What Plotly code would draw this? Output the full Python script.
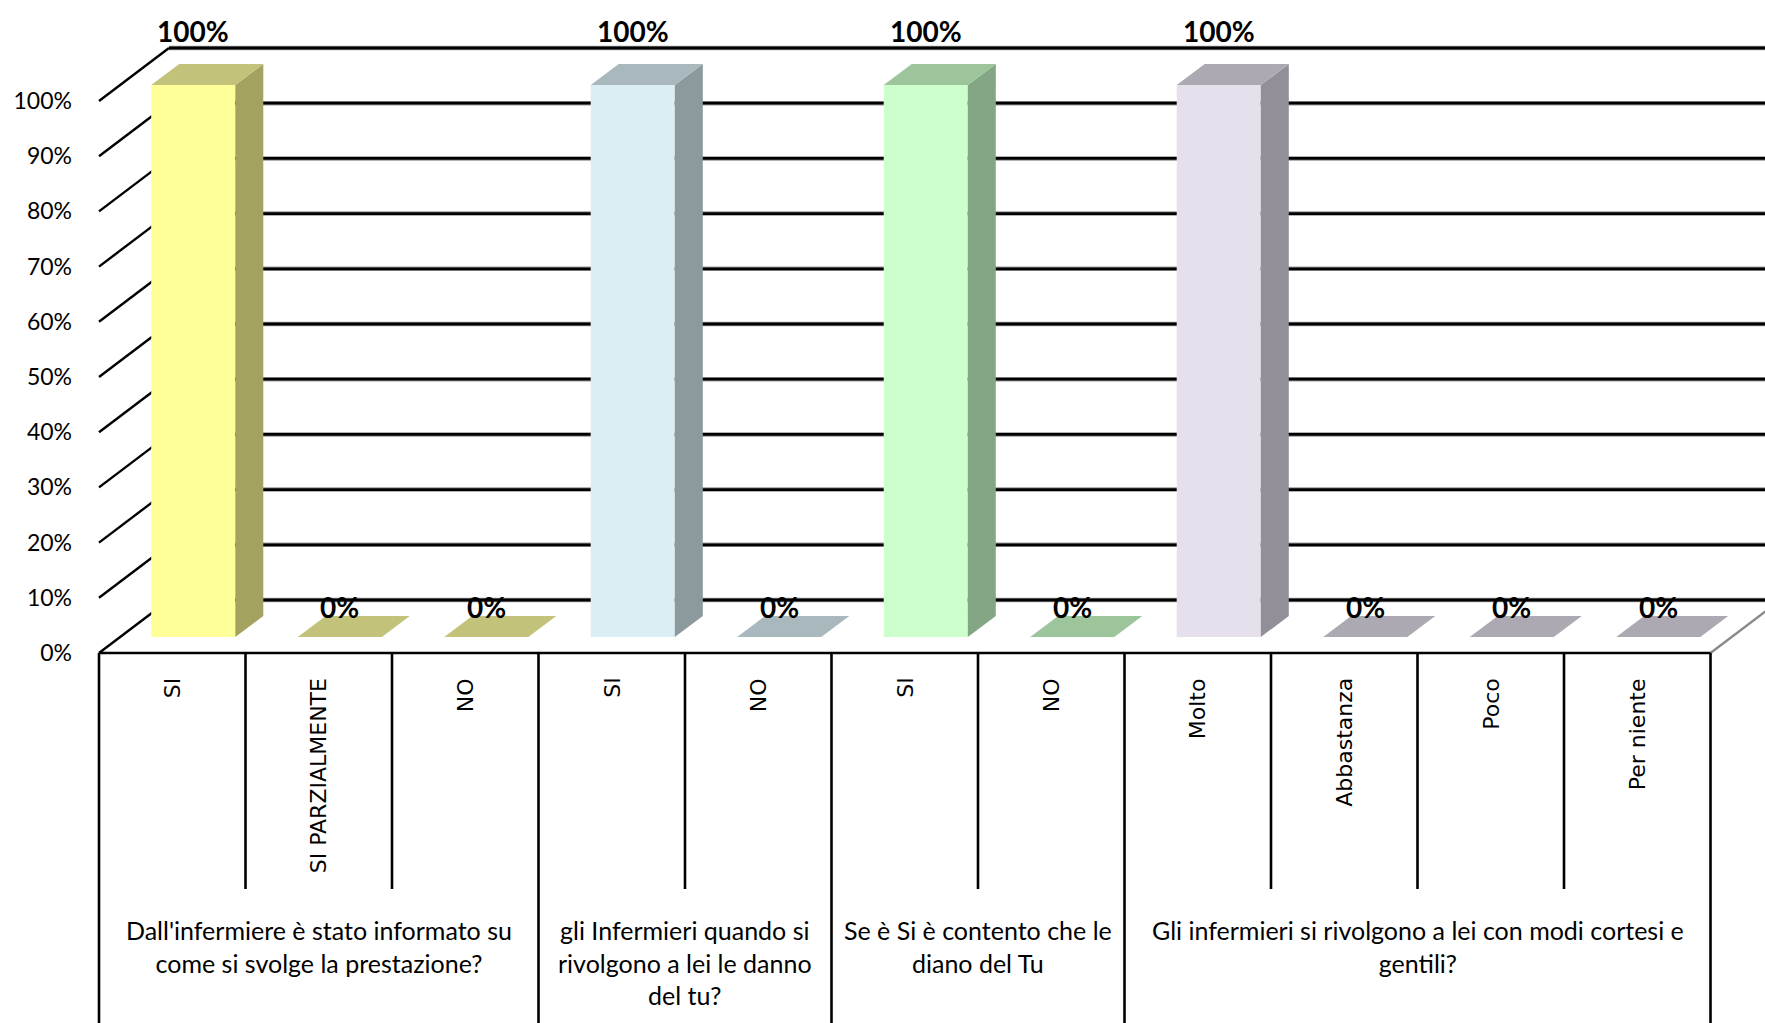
import plotly.graph_objects as go

# ---------------- data ----------------
categories = ["SI", "SI PARZIALMENTE", "NO", "SI", "NO", "SI", "NO",
              "Molto", "Abbastanza", "Poco", "Per niente"]
values = [1.0, 0.0, 0.0, 1.0, 0.0, 1.0, 0.0, 1.0, 0.0, 0.0, 0.0]
question_labels = [
    "Dall'infermiere è stato informato su<br>come si svolge la prestazione?",
    "gli Infermieri quando si<br>rivolgono a lei le danno<br>del tu?",
    "Se è Si è contento che le<br>diano del Tu",
    "Gli infermieri si rivolgono a lei con modi cortesi e<br>gentili?",
]
question_sizes = [3, 2, 2, 4]
y_ticks = [0.0, 0.1, 0.2, 0.3, 0.4, 0.5, 0.6, 0.7, 0.8, 0.9, 1.0]
y_tick_labels = ["0%", "10%", "20%", "30%", "40%", "50%", "60%", "70%", "80%", "90%", "100%"]

# ---------------- style ----------------
front_colors = ["#FFFF99", "#DAEEF3", "#CCFFCC", "#E5E0EC"]
side_colors = ["#A3A35F", "#8C9A9E", "#84A684", "#938F98"]
top_colors = ["#C2C27A", "#A9B8BC", "#9CC59C", "#ADA9B2"]

W, H = 1765, 1023
X0_PX, CAT_PX = 99.0, 146.5      # front plane: category 0 left edge, width of a category
Y0_PX, V_PX = 653.0, 552.0       # front plane: 0% level, pixels for 100%
DEPTH_X = 70.0 / CAT_PX          # full depth offset in data units
DEPTH_Y = 53.0 / V_PX
BAR_HALF = 0.287
BAR_D0, BAR_D1 = 0.3, 0.7

x_range = [-X0_PX / CAT_PX, (W - X0_PX) / CAT_PX]
y_range = [(Y0_PX - H) / V_PX, Y0_PX / V_PX]


def proj(x, v, d):
    return x + d * DEPTH_X, v + d * DEPTH_Y


def px_to_v(py):
    return (Y0_PX - py) / V_PX


n = len(categories)
group_of = []
for g, s in enumerate(question_sizes):
    group_of += [g] * s

fig = go.Figure()


def poly(xs, ys, color):
    fig.add_trace(go.Scatter(x=xs + [xs[0]], y=ys + [ys[0]], mode="lines", fill="toself",
                             fillcolor=color, line=dict(width=0, color=color),
                             hoverinfo="skip", showlegend=False))


def lines(segs, color, width):
    xs, ys = [], []
    for (a, b) in segs:
        xs += [a[0], b[0], None]
        ys += [a[1], b[1], None]
    fig.add_trace(go.Scatter(x=xs, y=ys, mode="lines", line=dict(color=color, width=width),
                             hoverinfo="skip", showlegend=False))


# back-wall gridlines
grid = []
for t in y_ticks:
    grid.append((proj(0, t, 1), proj(n + 1, t, 1)))
lines(grid, "#9a9a9a", 4.5)
lines(grid, "black", 2.8)

# left diagonal ticks
ticks = [(proj(0, t, 0), proj(0, t, 1)) for t in y_ticks]
lines(ticks, "black", 2.4)

# right floor diagonal
lines([(proj(n, 0, 0), proj(n, 0, 1.3))], "#8a8a8a", 2.4)

# bars
for i, v in enumerate(values):
    g = group_of[i]
    xl, xr = i + 0.5 - BAR_HALF, i + 0.5 + BAR_HALF
    fl_b = proj(xl, 0, BAR_D0); fr_b = proj(xr, 0, BAR_D0)
    fl_t = proj(xl, v, BAR_D0); fr_t = proj(xr, v, BAR_D0)
    br_b = proj(xr, 0, BAR_D1); br_t = proj(xr, v, BAR_D1); bl_t = proj(xl, v, BAR_D1)
    if v > 0:
        poly([fl_b[0], fr_b[0], fr_t[0], fl_t[0]], [fl_b[1], fr_b[1], fr_t[1], fl_t[1]], front_colors[g])
        poly([fr_b[0], br_b[0], br_t[0], fr_t[0]], [fr_b[1], br_b[1], br_t[1], fr_t[1]], side_colors[g])
    poly([fl_t[0], fr_t[0], br_t[0], bl_t[0]], [fl_t[1], fr_t[1], br_t[1], bl_t[1]], top_colors[g])

# table lines
bottom = y_range[0] - 0.05
short_bottom = px_to_v(889)
bounds = [0]
for s in question_sizes:
    bounds.append(bounds[-1] + s)
tsegs = [((0, 0), (n, 0))]
for k in range(n + 1):
    yb = bottom if k in bounds else short_bottom
    tsegs.append(((k, 0), (k, yb)))
lines(tsegs, "black", 2.6)

annotations = []
# data labels
for i, v in enumerate(values):
    cx, top_v = proj(i + 0.5, v, BAR_D1)
    fx, _ = proj(i + 0.5, v, BAR_D0)
    annotations.append(dict(x=fx, y=top_v, xref="x", yref="y", text=f"{int(round(v * 100))}%",
                            showarrow=False, xanchor="center", yanchor="middle",
                            yshift=9 + 24 * v,
                            font=dict(family="Lato", size=28, color="black", weight="bold")))
# category labels (rotated)
for i, c in enumerate(categories):
    annotations.append(dict(x=i + 0.5, y=px_to_v(676), xref="x", yref="y", text=c,
                            showarrow=False, textangle=-90, xanchor="center", yanchor="top",
                            font=dict(family="DejaVu Sans", size=22, color="black")))
# question labels
for g, q in enumerate(question_labels):
    cx = (bounds[g] + bounds[g + 1]) / 2
    annotations.append(dict(x=cx, y=px_to_v(913), xref="x", yref="y", text=q,
                            showarrow=False, xanchor="center", yanchor="top", align="center",
                            font=dict(family="Lato", size=25, color="black")))

fig.update_layout(
    width=W, height=H, margin=dict(l=0, r=0, t=0, b=0),
    paper_bgcolor="white", plot_bgcolor="white",
    xaxis=dict(range=x_range, visible=False, fixedrange=True),
    yaxis=dict(range=y_range, showgrid=False, zeroline=False, showline=False,
               tickvals=y_ticks, ticktext=y_tick_labels, ticks="",
               anchor="free", position=72 / W, automargin=False,
               tickfont=dict(family="Lato", size=23, color="black"), fixedrange=True),
    annotations=annotations,
    showlegend=False,
)

fig.write_html("out.html", config={"displayModeBar": False},
               post_script="document.body.style.margin='0';document.body.style.overflow='hidden';")
